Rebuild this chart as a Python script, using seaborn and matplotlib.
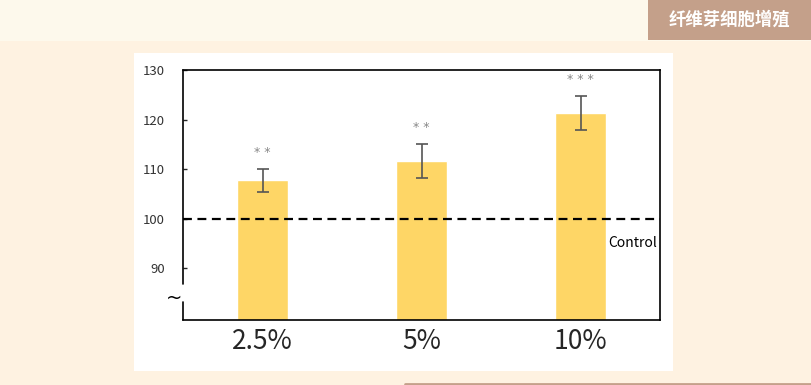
import matplotlib
matplotlib.use("Agg")
import matplotlib.pyplot as plt
import matplotlib.patches as mpatches
import seaborn as sns
import pandas as pd

# -----------------------------
# Data
# -----------------------------
concentrations = ["2.5%", "5%", "10%"]
proliferation = [107.7, 111.6, 121.3]
errors = [2.4, 3.4, 3.4]
significance = ["**", "**", "***"]
y_ticks = [90, 100, 110, 120, 130]
title_text = "纤维芽细胞增殖"

df = pd.DataFrame({"concentration": concentrations, "value": proliferation})

sns.set_theme(style="white")
plt.rcParams["font.family"] = ["Noto Sans CJK SC", "DejaVu Sans"]

fig = plt.figure(figsize=(8.11, 3.85), dpi=100)
fig.patch.set_facecolor("#fef2e1")

# background bands and frame
fig.add_artist(mpatches.Rectangle((0, 1 - 41 / 385), 1, 41 / 385, transform=fig.transFigure,
                                  facecolor="#fdf9ec", edgecolor="none", zorder=0))
fig.add_artist(mpatches.Rectangle((648 / 811, 1 - 40 / 385), 163 / 811, 40 / 385, transform=fig.transFigure,
                                  facecolor="#c4a08a", edgecolor="none", zorder=1))
fig.text(729 / 811, 1 - 20 / 385, title_text, ha="center", va="center", color="white",
         fontsize=12.5, fontweight="bold", zorder=2)
fig.add_artist(mpatches.Rectangle((134 / 811, 14 / 385), 539 / 811, 318 / 385, transform=fig.transFigure,
                                  facecolor="white", edgecolor="none", zorder=0))
fig.add_artist(plt.Line2D([405 / 811, 1], [1.5 / 385, 1.5 / 385], transform=fig.transFigure,
                          color="#c4a08a", lw=2))

# -----------------------------
# Bar chart
# -----------------------------
ax = fig.add_axes([183 / 811, 65 / 385, 477 / 811, 250 / 385])
ax.set_facecolor("white")
sns.barplot(data=df, x="concentration", y="value", color="#fed666", saturation=1,
            width=0.32, ax=ax, zorder=2)
ax.errorbar(range(len(concentrations)), proliferation, yerr=errors, fmt="none",
            ecolor="#555555", elinewidth=1.2, capsize=4, capthick=1.2, zorder=3)
for i, (v, e, s) in enumerate(zip(proliferation, errors, significance)):
    ax.text(i, v + e + 2.0, " ".join(s), ha="center", va="bottom", color="#888888",
            fontsize=9, family="DejaVu Sans")

ax.axhline(100, color="black", ls=(0, (4, 2.5)), lw=1.6, zorder=4)
ax.text(2.48, 95.0, "Control", ha="right", va="center", fontsize=10, color="black")

ax.set_ylim(79.5, 130)
ax.set_xlim(-0.5, 2.5)
ax.set_yticks(y_ticks)
ax.set_yticklabels([str(t) for t in y_ticks], fontsize=9.5, color="#333333")
ax.tick_params(axis="y", direction="in", length=3, width=1, left=True, pad=13)
ax.tick_params(axis="x", length=0, labelsize=19, pad=6)
ax.set_xlabel("")
ax.set_ylabel("")

for side in ["top", "right", "bottom"]:
    ax.spines[side].set_color("black")
    ax.spines[side].set_linewidth(1.2)
ax.spines["left"].set_visible(False)
# left spine with a break
ax.plot([-0.5, -0.5], [130, 86.8], color="black", lw=1.2, clip_on=False, zorder=5)
ax.plot([-0.5, -0.5], [83.2, 79.5], color="black", lw=1.2, clip_on=False, zorder=5)
ax.text(-0.505, 83.8, "~", ha="right", va="center", fontsize=14, color="black",
        family="DejaVu Sans")

plt.savefig("out.png", dpi=100, facecolor=fig.get_facecolor())
